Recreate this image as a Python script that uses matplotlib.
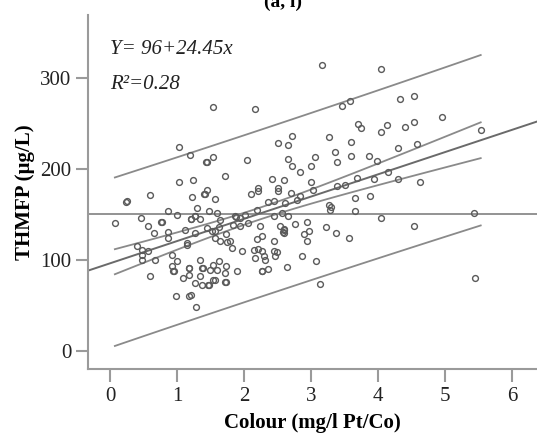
import numpy as np
import matplotlib.pyplot as plt

# colour (mg/l Pt/Co) vs THMFP (ug/L) samples
colour = [1.54, 1.02, 1.19, 1.43, 1.53, 1.02, 1.24, 1.72, 1.44, 1.40,
          3.16, 2.16, 3.46, 3.58, 3.70, 3.75, 2.50, 2.65, 2.71, 3.26,
          3.59, 2.04, 2.65, 2.71, 3.06, 3.00, 3.35, 3.39, 3.60, 2.84,
          2.41, 2.99, 2.21, 2.51, 3.38, 3.51, 3.68, 4.04, 4.32, 4.53,
          4.95, 4.13, 4.04, 4.40, 4.53, 5.53, 4.29, 4.58, 3.87, 3.98,
          4.14, 3.94, 4.29, 4.62, 3.88, 4.04, 4.53, 5.43, 5.45, 2.60,
          2.10, 2.21, 2.50, 2.70, 2.84, 3.02, 2.35, 2.44, 2.61, 2.79,
          3.26, 3.28, 3.66, 3.66, 1.87, 1.94, 2.01, 1.84, 1.94, 2.06,
          2.19, 2.44, 2.56, 2.66, 2.76, 2.93, 2.23, 2.54, 2.59, 2.60,
          2.97, 2.90, 3.22, 3.37, 3.57, 2.93, 2.19, 2.26, 2.45, 1.79,
          1.82, 1.97, 2.14, 2.21, 2.26, 2.16, 2.29, 2.31, 2.44, 2.49,
          2.86, 3.07, 2.64, 1.89, 2.26, 2.35, 3.13, 0.60, 0.24, 1.22,
          1.57, 1.30, 0.87, 1.00, 1.20, 1.26, 1.34, 1.47, 1.59, 1.64,
          0.46, 0.76, 0.07, 0.56, 0.66, 0.87, 0.87, 1.12, 1.14, 1.27,
          1.44, 1.52, 1.63, 1.57, 1.64, 1.74, 1.73, 0.40, 0.47, 0.57,
          0.47, 0.67, 0.92, 1.00, 0.92, 0.94, 1.15, 1.17, 1.18, 1.09,
          1.34, 1.37, 1.34, 1.27, 1.37, 1.47, 1.54, 1.49, 1.59, 1.54,
          1.62, 1.72, 1.72, 1.73, 0.59, 0.98, 1.18, 1.28,
          # overlapping samples
          0.25, 1.44, 1.41, 0.77, 1.21, 1.73, 0.48, 0.95, 1.56, 1.88,
          2.27, 2.46, 1.18, 1.38, 1.21, 1.27, 2.60, 2.58, 3.29, 1.57,
          1.46]
thmfp = [268, 224, 215, 207, 213, 185, 188, 191.5, 177, 172,
         314, 265.5, 269, 274, 249, 245, 228, 226, 235.5, 235,
         229.7, 210, 211, 202.5, 213, 203, 218, 207, 213.5, 196,
         188.6, 185.7, 179, 179, 181, 182, 190, 309, 276.5, 280,
         256.8, 248, 240, 245.7, 251, 242, 222.7, 227, 213.5, 208.8,
         196, 189, 189, 185, 170, 146, 136.6, 151, 80, 187,
         172.5, 175, 175, 173, 169.6, 177, 163, 164, 162, 166,
         160.4, 155, 167.8, 153, 147.6, 145.8, 149.5, 138.5, 136.6, 140,
         155, 147.6, 151, 147.6, 139, 141, 136.6, 137, 133.6, 129,
         131, 128, 136, 129, 123.6, 120, 122.7, 125.6, 121, 120,
         113, 109, 111, 111.8, 110, 101.9, 104.4, 100, 109, 108,
         103.6, 98.9, 91.6, 87, 87, 89.7, 73, 171.4, 163.7, 169,
         166.7, 156.8, 153, 148.7, 144.6, 148.4, 144.6, 153, 151.5, 144,
         145.8, 141, 140, 136.6, 129, 130, 124, 133, 118, 129,
         134.8, 131, 135.8, 123.6, 120, 119, 128.6, 114.6, 111, 109,
         100, 100, 105.5, 98, 93.4, 87, 116.5, 90.7, 83.5, 79.8,
         100, 90.7, 81.6, 74.4, 72.5, 72.5, 78, 89, 89, 94.5,
         98, 75.5, 85.4, 93.4, 81.6, 60, 60.4, 48,
         164, 207, 172, 141, 61, 75, 105, 87, 131, 147,
         87, 104, 90.7, 90.7, 144.6, 148.4, 133, 130, 158, 78,
         72]

intercept = 96
slope = 24.45
r2 = 0.28

x = np.array(colour)
y = np.array(thmfp)
n = len(x)

# 95% mean confidence and individual prediction bands around the fit
resid = y - (intercept + slope * x)
s = np.sqrt(np.sum(resid ** 2) / (n - 2))
xm = x.mean()
sxx = np.sum((x - xm) ** 2)
xs = np.linspace(x.min(), x.max(), 100)
fit = intercept + slope * xs
t = 1.97
ci = t * s * np.sqrt(1.0 / n + (xs - xm) ** 2 / sxx)
pi = t * s * np.sqrt(1 + 1.0 / n + (xs - xm) ** 2 / sxx)

plt.rcParams['font.family'] = 'Liberation Serif'

fig = plt.figure(figsize=(5.37, 4.37), dpi=100)
ax = fig.add_axes([0.164, 0.156, 0.836, 0.81])

xlim = (-0.33, 6.37)
ax.set_xlim(xlim)
ax.set_ylim(-20, 369)

line_c = '#8a8a8a'
ax.axhline(y.mean(), color=line_c, lw=1.3, zorder=1)
xx = np.array(xlim)
ax.plot(xx, intercept + slope * xx, color='#6a6a6a', lw=1.4, zorder=2)
ax.plot(xs, fit + ci, color=line_c, lw=1.3, zorder=2)
ax.plot(xs, fit - ci, color=line_c, lw=1.3, zorder=2)
ax.plot(xs, fit + pi, color=line_c, lw=1.3, zorder=2)
ax.plot(xs, fit - pi, color=line_c, lw=1.3, zorder=2)

ax.plot(x, y, 'o', mfc='none', mec='#5a5a5a', ms=4.2, mew=1.0, zorder=3)

ax.text(0.0, 326, 'Y= 96+24.45x', style='italic', fontsize=15, color='#222222')
ax.text(0.0, 288, 'R\u00b2=%.2f' % r2, style='italic', fontsize=15, color='#222222')

ax.set_xticks(range(0, 7))
ax.set_yticks([0, 100, 200, 300])
for side in ['top', 'right']:
    ax.spines[side].set_visible(False)
for side in ['left', 'bottom']:
    ax.spines[side].set_color('#9a9a9a')
    ax.spines[side].set_linewidth(1.5)
ax.tick_params(direction='out', length=9, width=1.5, color='#9a9a9a',
               labelsize=15, labelcolor='#222222', pad=3)
ax.tick_params(axis='x', pad=4)

ax.set_xlabel('Colour (mg/l Pt/Co)', fontsize=15, fontweight='bold', labelpad=5)
ax.set_ylabel('THMFP (\u00b5g/L)', fontsize=15, fontweight='bold', labelpad=4)

fig.text(283 / 537, 0.985, '(a, i)', fontsize=14, fontweight='bold',
         ha='center', va='baseline')

fig.savefig('out.png', dpi=100)
